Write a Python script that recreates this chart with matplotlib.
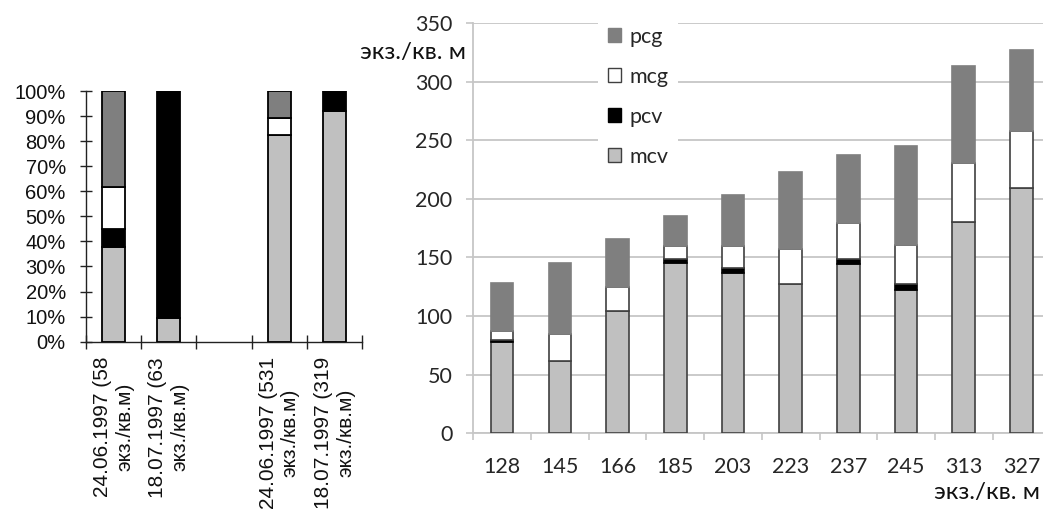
import numpy as np
import matplotlib
matplotlib.use("Agg")
import matplotlib.pyplot as plt
from matplotlib.patches import Patch

# ---------------- data ----------------
left_labels = ["24.06.1997 (58\nэкз./кв.м)", "18.07.1997 (63\nэкз./кв.м)", "",
               "24.06.1997 (531\nэкз./кв.м)", "18.07.1997 (319\nэкз./кв.м)"]
left_mcv = [37.6, 9.3, np.nan, 82.3, 92.0]
left_pcv = [7.3, 90.7, np.nan, 0.0, 8.0]
left_mcg = [16.9, 0.0, np.nan, 7.1, 0.0]
left_pcg = [38.2, 0.0, np.nan, 10.6, 0.0]

right_labels = ["128", "145", "166", "185", "203", "223", "237", "245", "313", "327"]
right_mcv = [78, 62, 104, 145, 137, 127, 144, 122, 180, 209]
right_pcv = [2, 0, 0, 4, 4, 0, 5, 5, 0, 0]
right_mcg = [7, 23, 21, 11, 19, 30, 30, 34, 51, 49]
right_pcg = [41, 60, 41, 25, 43, 66, 58, 84, 82, 69]

series_names = ["mcv", "pcv", "mcg", "pcg"]
colors = {"mcv": "#c0c0c0", "pcv": "#000000", "mcg": "#ffffff", "pcg": "#7f7f7f"}

W, H = 1043, 511
fig = plt.figure(figsize=(W / 100, H / 100), dpi=100)

# ---------------- left chart ----------------
axL = fig.add_axes([86 / W, (H - 341.7) / H, 276 / W, 250.7 / H])
xL = np.arange(len(left_labels)) + 0.5
bottom = np.zeros(len(left_labels))
for name, vals in zip(series_names, [left_mcv, left_pcv, left_mcg, left_pcg]):
    v = np.array(vals, dtype=float)
    draw = np.where(v > 0, v, np.nan)
    axL.bar(xL, draw, width=0.42, bottom=bottom, color=colors[name],
            edgecolor="black", linewidth=1.3, zorder=3)
    bottom = bottom + np.nan_to_num(v)
axL.set_xlim(0, len(left_labels))
axL.set_ylim(0, 100)
axL.set_yticks(np.arange(0, 101, 10))
axL.set_yticklabels([f"{t}%" for t in range(0, 101, 10)],
                    fontfamily="Liberation Sans", fontsize=14.5, color="#111111")
axL.set_xticks(xL)
axL.set_xticklabels(left_labels, rotation=90, ha="center", va="top",
                    multialignment="center", fontfamily="Liberation Sans",
                    fontsize=15, color="#111111", linespacing=1.22)
axL.tick_params(axis="x", which="major", length=0, pad=11)
axL.set_xticks(np.arange(0, len(left_labels) + 1), minor=True)
axL.tick_params(axis="x", which="minor", direction="inout", length=10, width=1, color="#222222")
axL.tick_params(axis="y", direction="inout", length=9, width=1, color="#222222", pad=10)
for s in ["top", "right"]:
    axL.spines[s].set_visible(False)
for s in ["left", "bottom"]:
    axL.spines[s].set_color("#222222")
    axL.spines[s].set_linewidth(1)

# ---------------- right chart ----------------
axR = fig.add_axes([473.3 / W, (H - 433.3) / H, 577 / W, 410.3 / H])
xR = np.arange(len(right_labels)) + 0.5
bottom = np.zeros(len(right_labels))
edge = {"mcv": "#404040", "pcv": "#000000", "mcg": "#404040", "pcg": "#7f7f7f"}
for name, vals in zip(series_names, [right_mcv, right_pcv, right_mcg, right_pcg]):
    v = np.array(vals, dtype=float)
    draw = np.where(v > 0, v, np.nan)
    axR.bar(xR, draw, width=0.39, bottom=bottom, color=colors[name],
            edgecolor=edge[name], linewidth=1.2, zorder=3)
    bottom = bottom + np.nan_to_num(v)
axR.set_xlim(0, len(right_labels))
axR.set_ylim(0, 350)
axR.set_yticks(np.arange(0, 351, 50))
axR.yaxis.grid(True, color="#c6c6c6", linewidth=1.3, zorder=0)
axR.set_axisbelow(True)
tick_font = dict(fontfamily="Lato", fontsize=15.5, color="#262626")
axR.set_yticklabels([str(t) for t in range(0, 351, 50)], **tick_font)
axR.set_xticks(xR)
axR.set_xticklabels(right_labels, **tick_font)
axR.tick_params(axis="x", which="major", length=0, pad=17)
axR.set_xticks(np.arange(0, len(right_labels) + 1), minor=True)
axR.tick_params(axis="x", which="minor", direction="out", length=5, width=1.2, color="#c6c6c6")
axR.tick_params(axis="y", direction="out", length=5, width=1.2, color="#c6c6c6", pad=10)
for s in ["top", "right"]:
    axR.spines[s].set_visible(False)
for s in ["left", "bottom"]:
    axR.spines[s].set_color("#c6c6c6")
    axR.spines[s].set_linewidth(1.3)

handles = [Patch(facecolor=colors["pcg"], edgecolor=colors["pcg"], label="pcg"),
           Patch(facecolor=colors["mcg"], edgecolor="#404040", label="mcg"),
           Patch(facecolor=colors["pcv"], edgecolor="#000000", label="pcv"),
           Patch(facecolor=colors["mcv"], edgecolor="#404040", label="mcv")]
leg = axR.legend(handles=handles, loc="upper left",
                 bbox_to_anchor=(598 / W, 1 - 17 / H), bbox_transform=fig.transFigure,
                 frameon=True, facecolor="white", edgecolor="none", framealpha=1,
                 fancybox=False, prop=dict(family="Lato", size=15.5),
                 labelspacing=0.93, handlelength=0.6, handleheight=0.6,
                 handletextpad=0.4, borderpad=0.45, borderaxespad=0)
for t in leg.get_texts():
    t.set_color("#262626")

fig.text(466 / W, 1 - 52 / H, "экз./кв. м", ha="right", va="center",
         fontfamily="Lato", fontsize=17.5, color="#111111")
fig.text(1040 / W, 1 - 492 / H, "экз./кв. м", ha="right", va="center",
         fontfamily="Lato", fontsize=17.5, color="#111111")

fig.savefig("out.png", dpi=100)
